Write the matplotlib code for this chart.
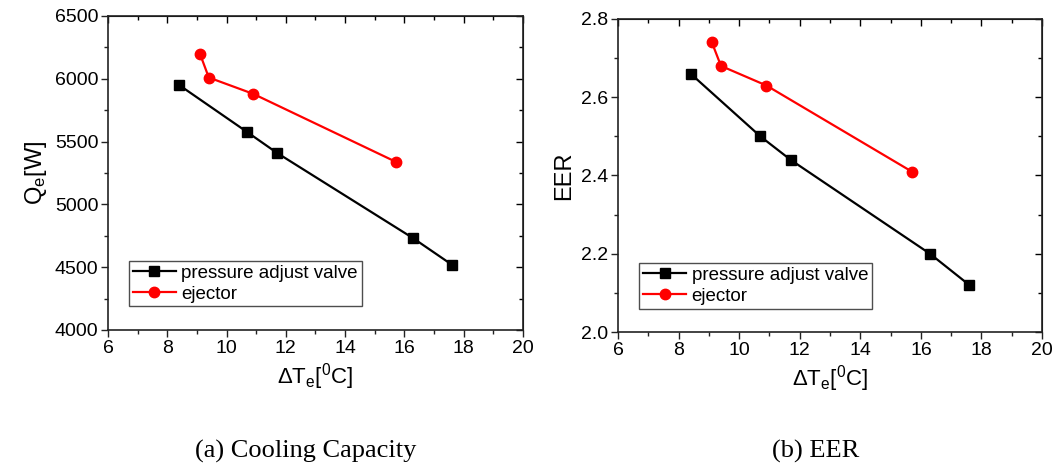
import matplotlib
matplotlib.use("Agg")
import matplotlib.pyplot as plt
from matplotlib.ticker import MultipleLocator, FormatStrFormatter

plt.rcParams['font.family'] = ['Liberation Sans', 'DejaVu Sans']
plt.rcParams['mathtext.fontset'] = 'custom'
plt.rcParams['mathtext.rm'] = 'Liberation Sans'
plt.rcParams['mathtext.it'] = 'Liberation Sans'
plt.rcParams['mathtext.bf'] = 'Liberation Sans:bold'

# Evaporator temperature difference [°C]
dt_valve = [8.4, 10.7, 11.7, 16.3, 17.6]
dt_ejector = [9.1, 9.4, 10.9, 15.7]

# Cooling capacity [W]
q_valve = [5950, 5575, 5410, 4730, 4520]
q_ejector = [6200, 6010, 5880, 5340]

# Energy efficiency ratio
eer_valve = [2.66, 2.50, 2.44, 2.20, 2.12]
eer_ejector = [2.74, 2.68, 2.63, 2.41]

label_valve = "pressure adjust valve"
label_ejector = "ejector"
xlabel = r"$\Delta$T$_{\mathrm{e}}$[$^{0}$C]"
captions = ["(a) Cooling Capacity", "(b) EER"]

fig = plt.figure(figsize=(10.55, 4.69), dpi=100)
ax1 = fig.add_axes([0.1024, 0.2964, 0.3933, 0.6695])
ax2 = fig.add_axes([0.5858, 0.2921, 0.4019, 0.6674])

TICK_FS = 14


def style_axes(ax, ymaj, ymin):
    ax.set_xlim(6, 20)
    ax.xaxis.set_major_locator(MultipleLocator(2))
    ax.xaxis.set_minor_locator(MultipleLocator(1))
    ax.yaxis.set_major_locator(MultipleLocator(ymaj))
    ax.yaxis.set_minor_locator(MultipleLocator(ymin))
    for s in ax.spines.values():
        s.set_linewidth(1.2)
        s.set_color('#222222')
    ax.tick_params(which='both', direction='out', top=False, right=False,
                   labelsize=TICK_FS, width=1.0, color='#222222', pad=2)
    ax.tick_params(which='major', length=5)
    ax.tick_params(which='minor', length=3)
    sec = ax.secondary_xaxis('top')
    sec.xaxis.set_major_locator(MultipleLocator(2))
    sec.xaxis.set_minor_locator(MultipleLocator(1))
    sec.tick_params(which='both', direction='in', labeltop=False, width=1.0)
    sec.tick_params(which='major', length=5)
    sec.tick_params(which='minor', length=3)
    secy = ax.secondary_yaxis('right')
    secy.yaxis.set_major_locator(MultipleLocator(ymaj))
    secy.yaxis.set_minor_locator(MultipleLocator(ymin))
    secy.tick_params(which='both', direction='in', labelright=False, width=1.0)
    secy.tick_params(which='major', length=5)
    secy.tick_params(which='minor', length=3)


def draw(ax, yv, ye):
    ax.plot(dt_valve, yv, color='black', lw=1.6, marker='s', ms=6.5,
            label=label_valve)
    ax.plot(dt_ejector, ye, color='#ff0000', lw=1.6, marker='o', ms=7.5,
            label=label_ejector)
    leg = ax.legend(loc='lower left', bbox_to_anchor=(0.05, 0.075),
                    fontsize=13.5, frameon=True, fancybox=False,
                    handlelength=2.3, handletextpad=0.3, borderpad=0.2,
                    labelspacing=0.2, borderaxespad=0)
    leg.get_frame().set_edgecolor('#222222')
    leg.get_frame().set_linewidth(1.0)


draw(ax1, q_valve, q_ejector)
ax1.set_ylim(4000, 6500)
style_axes(ax1, 500, 250)
ax1.set_xlabel(xlabel, fontsize=16, labelpad=3)
ax1.set_ylabel(r"Q$_{\mathrm{e}}$[W]", fontsize=17, labelpad=4)

draw(ax2, eer_valve, eer_ejector)
ax2.set_ylim(2.0, 2.8)
style_axes(ax2, 0.2, 0.1)
ax2.yaxis.set_major_formatter(FormatStrFormatter('%.1f'))
ax2.set_xlabel(xlabel, fontsize=16, labelpad=3)
ax2.set_ylabel("EER", fontsize=17, labelpad=4)

fig.text(0.290, 0.0235, captions[0], fontsize=19, ha='center', va='baseline',
         family=['Liberation Serif'])
fig.text(0.773, 0.0235, captions[1], fontsize=19, ha='center', va='baseline',
         family=['Liberation Serif'])

fig.savefig("out.png", dpi=100)
